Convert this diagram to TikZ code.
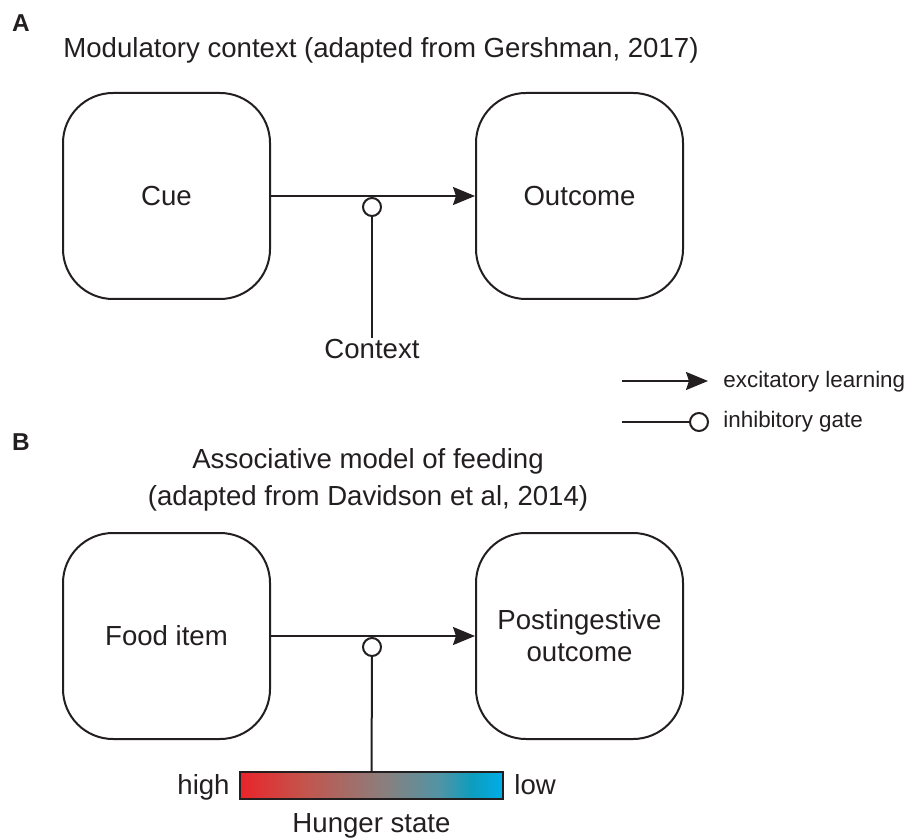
\documentclass[tikz,border=0pt]{standalone}
\usepackage{fontspec}
\setmainfont{Liberation Sans}
\usetikzlibrary{arrows.meta,positioning}
\definecolor{ink}{RGB}{35,31,32}
\definecolor{hungerA}{RGB}{233,36,42}
\definecolor{hungerB}{RGB}{196,84,76}
\definecolor{hungerC}{RGB}{140,126,124}
\definecolor{hungerD}{RGB}{80,148,165}
\definecolor{hungerE}{RGB}{14,157,190}
\definecolor{hungerF}{RGB}{0,174,232}
\pgfdeclarehorizontalshading{hungershade}{100bp}{color(0bp)=(hungerA); color(25bp)=(hungerA);
  color(37bp)=(hungerB); color(52bp)=(hungerC); color(63bp)=(hungerD); color(69bp)=(hungerE);
  color(75bp)=(hungerF); color(100bp)=(hungerF)}
\begin{document}
\begin{tikzpicture}[x=0.5pt,y=-0.5pt,>={Stealth[length=11pt,width=9pt,inset=1.5pt]},
  every node/.style={text=ink},
  box/.style={draw=ink,line width=1pt,rounded corners=25pt,minimum width=103.5pt,
    minimum height=103pt,align=center,font=\fontsize{13.8}{16}\selectfont},
  gate/.style={draw=ink,line width=1pt,fill=white,circle,inner sep=0pt,minimum size=9pt},
  wire/.style={draw=ink,line width=1pt},
  excite/.style={wire,->},
  txt/.style={inner sep=0pt,anchor=base,font=\fontsize{13.8}{16}\selectfont},
  legtxt/.style={inner sep=0pt,anchor=base west,font=\fontsize{11.2}{13}\selectfont},
  panel/.style={inner sep=0pt,anchor=base,font=\fontsize{12.2}{14}\selectfont\bfseries}]
  \useasboundingbox (0,0) rectangle (914,839);
  % panel A
  \node[panel] (lblA) at (21,32) {A};
  \node[txt,anchor=base west] (titleA) at (63,58) {Modulatory context (adapted from Gershman, 2017)};
  \node[box] (cue) at (166.5,196) {Cue};
  \node[box] (outcome) at (579.5,196) {Outcome};
  \node[gate] (gateA) at (372,207) {};
  \node[txt] (context) at (372,358) {Context};
  \draw[excite] (cue) -- (outcome);
  \draw[wire] (gateA) -- (context);
  % legend
  \coordinate (exA) at (622,381);
  \coordinate (exB) at (708,381);
  \draw[excite] (exA) -- (exB);
  \node[legtxt] (exlbl) at (723,387) {excitatory learning};
  \coordinate (inA) at (622,422);
  \node[gate] (inC) at (699,422) {};
  \draw[wire] (inA) -- (inC);
  \node[legtxt] (inlbl) at (723,427) {inhibitory gate};
  % panel B
  \node[panel] (lblB) at (21,450) {B};
  \node[txt] (titleB1) at (368,468) {Associative model of feeding};
  \node[txt] (titleB2) at (368,505) {(adapted from Davidson et al, 2014)};
  \node[box] (food) at (166.5,636) {Food item};
  \node[box] (post) at (579.5,636) {Postingestive\\outcome};
  \node[gate] (gateB) at (372,647) {};
  \node[draw=ink,line width=1pt,minimum width=131.5pt,minimum height=13.5pt,inner sep=0pt,
    shading=hungershade] (hunger) at (371.5,785.5) {};
  \node[txt,anchor=base east] (high) at (230,794) {high};
  \node[txt,anchor=base west] (low) at (514,794) {low};
  \node[txt] (hungerlbl) at (371.5,832) {Hunger state};
  \draw[excite] (food) -- (post);
  \draw[wire] (gateB) -- (hunger);
\end{tikzpicture}
\end{document}
